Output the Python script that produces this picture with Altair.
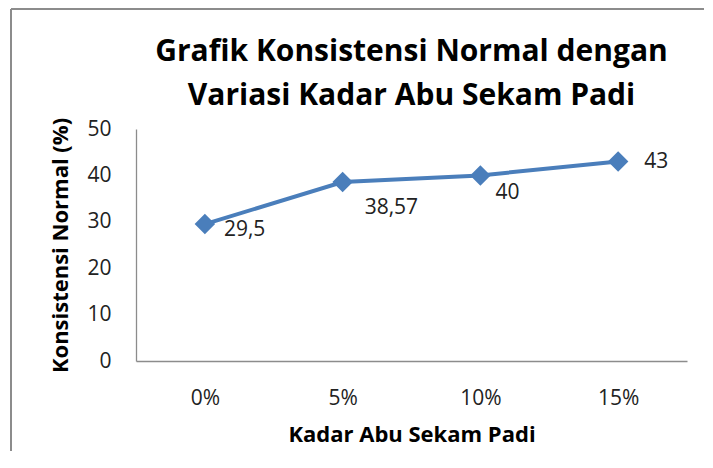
import altair as alt
import pandas as pd

categories = ["0%", "5%", "10%", "15%"]
values = [29.5, 38.57, 40, 43]
labels = ["29,5", "38,57", "40", "43"]

df = pd.DataFrame({"kadar": categories, "nilai": values, "label": labels})

FONT = "Open Sans"
BLUE = "#4A7EBB"

# per-label offsets (style, hand-positioned in the original)
label_dx = [19, 22, 15, 26]
label_dy = [6, 26, 18, 1]

base = alt.Chart(df)

x_enc = alt.X("kadar:N", sort=categories, title="Kadar Abu Sekam Padi",
              axis=alt.Axis(labelAngle=0, ticks=False, labelPadding=26,
                            titlePadding=16, domainColor="#8c8c8c",
                            domainWidth=1.3))
y_enc = alt.Y("nilai:Q", title="Konsistensi Normal (%)",
              scale=alt.Scale(domain=[0, 50]),
              axis=alt.Axis(values=[0, 10, 20, 30, 40, 50], ticks=False,
                            grid=False, labelPadding=25, titlePadding=14,
                            domainColor="#8c8c8c", domainWidth=1.3))

line = base.mark_line(color=BLUE, strokeWidth=4).encode(x=x_enc, y=y_enc)
pts = base.mark_point(shape="diamond", filled=True, size=420, color=BLUE,
                      opacity=1).encode(x=alt.X("kadar:N", sort=categories),
                                        y="nilai:Q")

text_layers = []
for lab, dx, dy in zip(labels, label_dx, label_dy):
    text_layers.append(
        base.transform_filter(alt.datum.label == lab)
        .mark_text(align="left", baseline="middle", dx=dx, dy=dy,
                   fontSize=21, font=FONT, color="#222222")
        .encode(x=alt.X("kadar:N", sort=categories), y="nilai:Q",
                text="label:N")
    )

frame_top = alt.Chart(df).mark_rule(color="#8c8c8c", strokeWidth=2).encode(
    x=alt.value(-125), x2=alt.value(580), y=alt.value(-120))
frame_left = alt.Chart(df).mark_rule(color="#8c8c8c", strokeWidth=2).encode(
    x=alt.value(-125), y=alt.value(-120), y2=alt.value(330))

chart = alt.layer(frame_top, frame_left, line, pts, *text_layers).properties(
    width=551, height=232,
    title=alt.TitleParams(
        text=["Grafik Konsistensi Normal dengan", "Variasi Kadar Abu Sekam Padi"],
        font=FONT, fontSize=30, fontWeight="bold", color="#000000",
        anchor="middle", offset=0, dy=103, lineHeight=44, frame="group"),
    padding={"left": 128, "top": 121, "right": 17, "bottom": 90},
    autosize=alt.AutoSizeParams(type="none"),
).configure(background="white").configure_view(stroke=None).configure_axis(
    labelFont=FONT, labelFontSize=21, labelColor="#222222",
    titleFont=FONT, titleFontSize=22, titleFontWeight="bold",
    titleColor="#000000", labelFontWeight="normal"
)

chart.save("out.html", embed_options={"renderer": "svg", "actions": False})
